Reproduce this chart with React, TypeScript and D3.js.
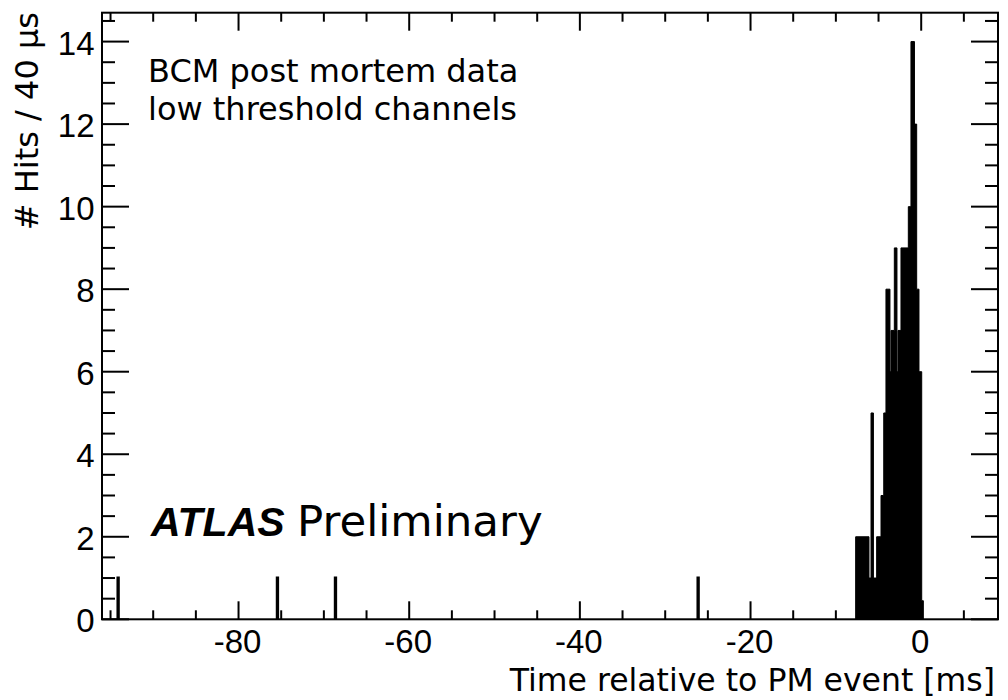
import React from 'react';
import * as d3 from 'd3';

// ---- data ----
const xDomain: [number, number] = [-96, 9];
const yDomain: [number, number] = [0, 14.7];
const xMajorTicks = [-80, -60, -40, -20, 0];
const yMajorTicks = [0, 2, 4, 6, 8, 10, 12, 14];
const binWidth = 0.04; // ms (40 µs)

// isolated single hits far before the event
const isolatedHitTimes = [-94.13, -75.46, -68.66, -26.16];
const isolatedHitCounts = [1, 1, 1, 1];

// dense burst just before the post-mortem event (step envelope: start time, hits)
const burstStarts = [-7.68, -6.12, -5.88, -5.6, -5.22, -4.71, -4.39, -4.13, -3.66, -3.54, -3.15, -2.84, -2.72, -2.37, -1.51, -1.2, -0.79, -0.53, -0.26, 0.06, 0.25];
const burstCounts = [2, 1, 5, 1, 2, 3, 5, 8, 6, 7, 9, 6, 7, 9, 10, 14, 12, 8, 6, 0.45, 0];

const textLines = ['BCM post mortem data', 'low threshold channels'];

const W = 1008;
const H = 700;
const M = { left: 102, right: 998, top: 12.7, bottom: 619.3 };

export default function App() {
  const x = d3.scaleLinear().domain(xDomain).range([M.left, M.right]);
  const y = d3.scaleLinear().domain(yDomain).range([M.bottom, M.top]);

  const xMinor = d3.range(-95, 9, 5).filter((v) => !xMajorTicks.includes(v));
  const yMinor = d3.range(0, 14.7, 0.5).filter((v) => !yMajorTicks.includes(v));

  const burstData = burstStarts.map((t, i) => ({ t, c: burstCounts[i] }));
  const area = d3
    .area<{ t: number; c: number }>()
    .x((d) => x(d.t))
    .y0(y(0))
    .y1((d) => y(d.c))
    .curve(d3.curveStepAfter);
  const burstPath = area(burstData) || '';

  const hitPaths = isolatedHitTimes.map((t, i) => {
    const p = d3.path();
    p.moveTo(x(t), y(0));
    p.lineTo(x(t), y(isolatedHitCounts[i]));
    p.lineTo(x(t + binWidth), y(isolatedHitCounts[i]));
    p.lineTo(x(t + binWidth), y(0));
    return p.toString();
  });

  const tickFont = "'Liberation Sans', Arial, Helvetica, sans-serif";
  const textFont = "'DejaVu Sans', sans-serif";

  return (
    <svg
      width={W}
      height={H}
      viewBox={`0 0 ${W} ${H}`}
      style={{ position: 'absolute', left: 0, top: 0, background: '#fff' }}
    >
      <rect x={0} y={0} width={W} height={H} fill="#fff" />
      {/* histogram */}
      <path d={burstPath} fill="#000" stroke="#000" strokeWidth={1} />
      {hitPaths.map((d, i) => (
        <path key={i} d={d} fill="none" stroke="#000" strokeWidth={3} />
      ))}

      {/* ticks */}
      <g stroke="#000" strokeWidth={2}>
        {xMajorTicks.map((v) => (
          <g key={'xM' + v}>
            <line x1={x(v)} x2={x(v)} y1={M.bottom} y2={M.bottom - 18} />
            <line x1={x(v)} x2={x(v)} y1={M.top} y2={M.top + 18} />
          </g>
        ))}
        {xMinor.map((v) => (
          <g key={'xm' + v}>
            <line x1={x(v)} x2={x(v)} y1={M.bottom} y2={M.bottom - 9} />
            <line x1={x(v)} x2={x(v)} y1={M.top} y2={M.top + 9} />
          </g>
        ))}
        {yMajorTicks.map((v) => (
          <g key={'yM' + v}>
            <line x1={M.left} x2={M.left + 27} y1={y(v)} y2={y(v)} />
            <line x1={M.right} x2={M.right - 27} y1={y(v)} y2={y(v)} />
          </g>
        ))}
        {yMinor.map((v) => (
          <g key={'ym' + v}>
            <line x1={M.left} x2={M.left + 13} y1={y(v)} y2={y(v)} />
            <line x1={M.right} x2={M.right - 13} y1={y(v)} y2={y(v)} />
          </g>
        ))}
      </g>

      {/* frame */}
      <rect
        x={M.left}
        y={M.top}
        width={M.right - M.left}
        height={M.bottom - M.top}
        fill="none"
        stroke="#000"
        strokeWidth={2}
      />

      {/* tick labels */}
      <g fontFamily={tickFont} fontSize={33} fill="#000">
        {xMajorTicks.map((v) => (
          <text key={'xl' + v} x={x(v) - 1} y={653} textAnchor="middle">
            {v}
          </text>
        ))}
        {yMajorTicks.map((v) => (
          <text key={'yl' + v} x={94.5} y={y(v) + 13} textAnchor="end">
            {v}
          </text>
        ))}
      </g>

      {/* axis titles */}
      <text x={995} y={691} textAnchor="end" fontFamily={textFont} fontSize={31.5} fill="#000">
        Time relative to PM event [ms]
      </text>
      <text
        transform="translate(37.5,12) rotate(-90)"
        textAnchor="end"
        fontFamily={textFont}
        fontSize={32}
        fill="#000"
      >
        # Hits / 40 µs
      </text>

      {/* annotations */}
      <g fontFamily={textFont} fontSize={32} fill="#000">
        {textLines.map((s, i) => (
          <text key={i} x={148} y={82 + i * 38}>
            {s}
          </text>
        ))}
      </g>
      <text
        x={151}
        y={536}
        fontFamily={tickFont}
        fontWeight="bold"
        fontStyle="italic"
        fontSize={41}
        fill="#000"
      >
        ATLAS
      </text>
      <text x={297} y={536} fontFamily={textFont} fontSize={43.5} fill="#000">
        Preliminary
      </text>
    </svg>
  );
}
